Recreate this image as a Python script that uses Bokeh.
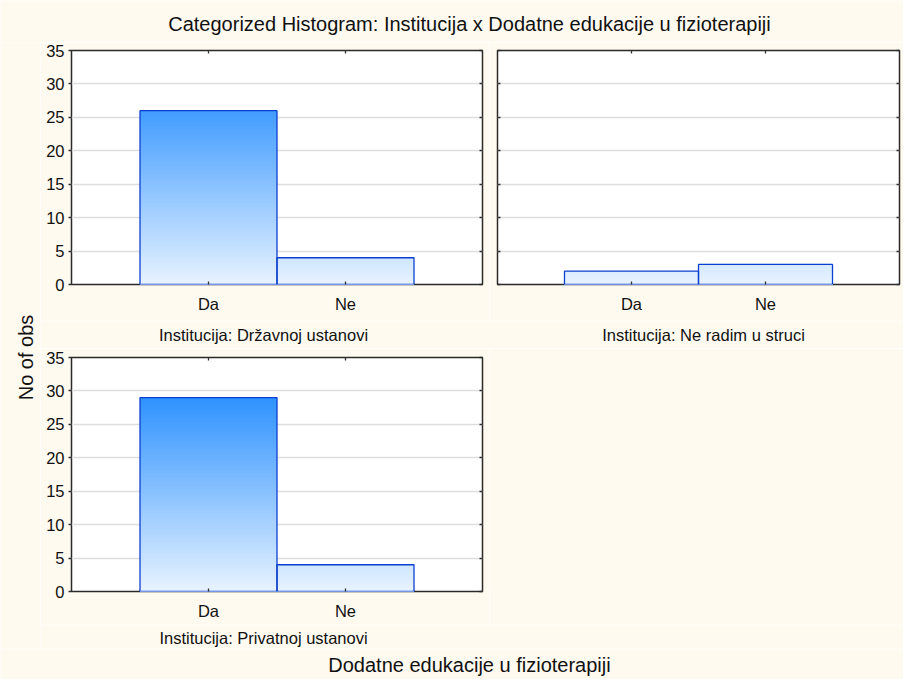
import numpy as np
from bokeh.plotting import figure
from bokeh.models import Range1d, LinearAxis, FixedTicker, Grid, Label, CustomLabelingPolicy
from bokeh.layouts import column, row
from bokeh.embed import file_html
from bokeh.resources import INLINE

# ---------------- data ----------------
title_text = "Categorized Histogram: Institucija x Dodatne edukacije u fizioterapiji"
x_title = "Dodatne edukacije u fizioterapiji"
y_title = "No of obs"
categories = ["Da", "Ne"]
panel_names = ["Institucija: Državnoj ustanovi",
               "Institucija: Ne radim u struci",
               "Institucija: Privatnoj ustanovi"]
drzavnoj = [26, 4]
ne_radim = [2, 3]
privatnoj = [29, 4]
y_ticks = [0, 5, 10, 15, 20, 25, 30, 35]

# ---------------- style ----------------
CREAM = "#FFFAF0"
FONT = "Liberation Sans"
TXT = "#111111"
LIGHT = np.array([232, 243, 255])
DARK = np.array([40, 143, 255])
GRAD_TOP = 30.0
STEP = 0.2

HIDE_LABELS = """
for (const i of indices) {
    indices.unset(i)
}
return indices
"""


def grad_color(y):
    t = min(max(y / GRAD_TOP, 0.0), 1.0)
    c = LIGHT + (DARK - LIGHT) * t
    return "#%02x%02x%02x" % tuple(int(round(v)) for v in c)


def blank(width, height, xr, yr):
    p = figure(width=width, height=height, x_range=xr, y_range=yr,
               x_axis_type=None, y_axis_type=None, toolbar_location=None,
               output_backend="svg", min_border_left=0, min_border_right=0,
               min_border_top=0, min_border_bottom=0)
    p.outline_line_color = None
    p.background_fill_color = CREAM
    p.border_fill_color = CREAM
    p.xgrid.visible = False
    p.ygrid.visible = False
    return p


def text_label(x, y, txt, size, angle=0.0):
    return Label(x=x, y=y, text=txt, angle=angle, text_align="center",
                 text_baseline="middle", text_font=FONT, text_font_size=size,
                 text_color=TXT)


def panel(counts, width, height, mbl, mbr, mbt, mbb, ylabels):
    p = figure(width=width, height=height, x_range=Range1d(0, 3), y_range=Range1d(0, 35),
               x_axis_type=None, y_axis_type=None, toolbar_location=None,
               output_backend="svg", min_border_left=mbl, min_border_right=mbr,
               min_border_top=mbt, min_border_bottom=mbb)
    p.background_fill_color = "white"
    p.border_fill_color = CREAM
    p.outline_line_color = "#2a2a2a"
    p.outline_line_width = 1.5

    yt = FixedTicker(ticks=y_ticks)
    xpos = list(range(1, len(categories) + 1))
    xt = FixedTicker(ticks=xpos)
    p.add_layout(Grid(dimension=1, ticker=FixedTicker(ticks=y_ticks[1:-1]),
                      grid_line_color="#dddddd", grid_line_width=1.3))

    def style(ax, tin, tout, labels):
        ax.axis_line_color = None
        ax.major_tick_line_color = "#333333"
        ax.major_tick_line_width = 1.3
        ax.minor_tick_line_color = None
        ax.major_tick_in = tin
        ax.major_tick_out = tout
        ax.major_label_text_font = FONT
        ax.major_label_text_color = TXT
        if labels:
            ax.major_label_text_font_size = "16.5px"
        else:
            ax.major_label_text_font_size = "1px"
            ax.major_label_standoff = 0
            ax.major_label_policy = CustomLabelingPolicy(code=HIDE_LABELS)

    below = LinearAxis(ticker=xt, major_label_overrides={i + 1: c for i, c in enumerate(categories)})
    style(below, 3, 0, True)
    below.major_label_standoff = 10
    p.add_layout(below, "below")
    above = LinearAxis(ticker=xt)
    style(above, 3, 0, False)
    p.add_layout(above, "above")
    left = LinearAxis(ticker=yt)
    if ylabels:
        style(left, 0, 3, True)
        left.major_label_standoff = 4
    else:
        style(left, 3, 0, False)
    p.add_layout(left, "left")
    right = LinearAxis(ticker=yt)
    style(right, 3, 0, False)
    p.add_layout(right, "right")

    # gradient-filled bars
    lefts, rights, tops, colors = [], [], [], []
    for x, v in zip(xpos, counts):
        for lv in np.arange(v, 0, -STEP):
            lefts.append(x - 0.5)
            rights.append(x + 0.5)
            tops.append(float(lv))
            colors.append(grad_color(lv - STEP / 2))
    p.quad(left=lefts, right=rights, top=tops, bottom=0, fill_color=colors, line_color=None)
    p.quad(left=[x - 0.5 for x in xpos], right=[x + 0.5 for x in xpos], top=counts, bottom=0,
           fill_color=None, line_color="#0b3fcf", line_width=1.3)
    return p


# ---------------- figures (ranges of the text strips are page pixels) ----------------
title_fig = blank(903, 42, Range1d(8, 911), Range1d(50, 8))
title_fig.add_layout(text_label(477, 31, title_text, "20px"))

ylab_fig = blank(40, 606, Range1d(8, 48), Range1d(656, 50))
ylab_fig.add_layout(text_label(33, 365, y_title, "20px", np.pi / 2))

p1 = panel(drzavnoj, 449, 278, 31, 7, 8, 36, True)
p2 = panel(ne_radim, 414, 278, 8, 3, 8, 36, False)

strip1 = blank(863, 28, Range1d(48, 911), Range1d(356, 328))
strip1.add_layout(text_label(271, 342, panel_names[0], "16.5px"))
strip1.add_layout(text_label(711, 342, panel_names[1], "16.5px"))

p3 = panel(privatnoj, 449, 276, 31, 7, 9, 33, True)
empty = blank(414, 276, Range1d(0, 1), Range1d(0, 1))

strip2 = blank(863, 24, Range1d(48, 911), Range1d(656, 632))
strip2.add_layout(text_label(271, 645, panel_names[2], "16.5px"))

bottom_fig = blank(903, 31, Range1d(8, 911), Range1d(687, 656))
bottom_fig.add_layout(text_label(477, 672, x_title, "20px"))

layout = column(title_fig,
                row(ylab_fig, column(row(p1, p2), strip1, row(p3, empty), strip2)),
                bottom_fig)

open("out.html", "w").write(file_html(layout, INLINE))
